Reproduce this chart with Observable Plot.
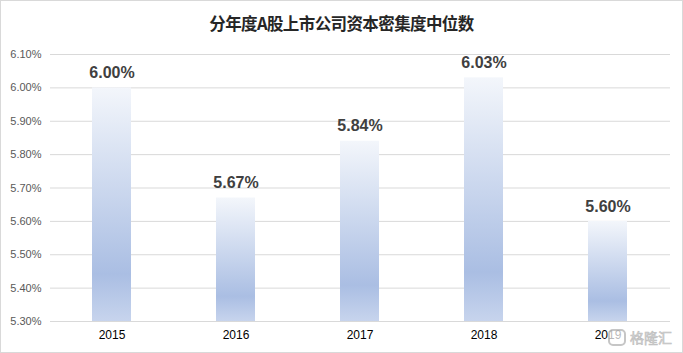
<!DOCTYPE html>
<html>
<head>
<meta charset="utf-8">
<script src="https://cdn.jsdelivr.net/npm/d3@7"></script>
<script src="https://cdn.jsdelivr.net/npm/@observablehq/plot@0.6"></script>
<style>
  html, body { margin: 0; padding: 0; background: #fff; }
  #frame { position: relative; width: 683px; height: 353px; box-sizing: border-box; border: 1px solid #d9d9d9; background: #fff; overflow: hidden; font-family: "Liberation Sans", Arial, sans-serif; }
  #title { height: 39px; line-height: 44px; text-align: center; font-family: "Noto Sans CJK SC", sans-serif; font-weight: bold; font-size: 16.5px; color: #262626; letter-spacing: -0.6px; }
  #wm { position: absolute; left: 607px; top: 328px; display: flex; align-items: center; gap: 4px; font-family: "Noto Sans CJK SC", sans-serif; font-size: 14px; line-height: 17px; color: #d4d4d4; -webkit-text-stroke: 0.6px #b8b8b8; opacity: 0.9; white-space: nowrap; }
  #wm .ic { width: 18px; height: 17px; border-radius: 5px; border: 2px solid #c0c0c0; box-sizing: border-box; background: rgba(255,255,255,0.8); }
</style>
</head>
<body>
<div id="frame">
  <div id="title">分年度A股上市公司资本密集度中位数</div>
  <div id="chart"></div>
  <div id="wm"><div class="ic"></div><span>格隆汇</span></div>
</div>
<script>
const years = ["2015", "2016", "2017", "2018", "2019"];
const values = [0.0600, 0.0567, 0.0584, 0.0603, 0.0560];
const yTicks = [0.053, 0.054, 0.055, 0.056, 0.057, 0.058, 0.059, 0.060, 0.061];
const yMin = 0.053, yMax = 0.061;

const data = years.map((y, i) => ({year: y, value: values[i]}));
const pct = d3.format(".2%");

const gradientDefs = () => {
  const ns = "http://www.w3.org/2000/svg";
  const defs = document.createElementNS(ns, "defs");
  const lg = document.createElementNS(ns, "linearGradient");
  lg.setAttribute("id", "barGrad");
  lg.setAttribute("x1", "0"); lg.setAttribute("y1", "0");
  lg.setAttribute("x2", "0"); lg.setAttribute("y2", "1");
  [["0%", "#f3f6fb"], ["80%", "#aabee3"], ["100%", "#c7d4ed"]].forEach(([o, c]) => {
    const s = document.createElementNS(ns, "stop");
    s.setAttribute("offset", o); s.setAttribute("stop-color", c);
    lg.appendChild(s);
  });
  defs.appendChild(lg);
  return defs;
};

const chart = Plot.plot({
  width: 681,
  height: 312,
  marginTop: 14,
  marginBottom: 31,
  marginLeft: 49,
  marginRight: 12,
  style: {fontFamily: "Liberation Sans, Arial, sans-serif", background: "transparent"},
  x: {domain: years, paddingInner: 0.685, paddingOuter: 0.3425, label: null, tickSize: 0, tickPadding: 9},
  y: {domain: [yMin, yMax], ticks: yTicks, tickFormat: d3.format(".2%"), label: null, tickSize: 0, tickPadding: 9, grid: false},
  marks: [
    gradientDefs,
    Plot.ruleY(yTicks, {stroke: "#d9d9d9", strokeWidth: 1}),
    Plot.barY(data, {x: "year", y1: yMin, y2: "value", fill: "url(#barGrad)"}),
    Plot.text(data, {x: "year", y: "value", text: d => pct(d.value), dy: -15, fontSize: 16, fontWeight: "bold", fill: "#404040"}),
    Plot.axisY({ticks: yTicks, tickFormat: d3.format(".2%"), tickSize: 0, tickPadding: 9, fontSize: 11, fill: "#595959", label: null}),
    Plot.axisX({tickSize: 0, tickPadding: 9, fontSize: 12, fill: "#000", label: null})
  ]
});
document.getElementById("chart").appendChild(chart);
</script>
</body>
</html>
